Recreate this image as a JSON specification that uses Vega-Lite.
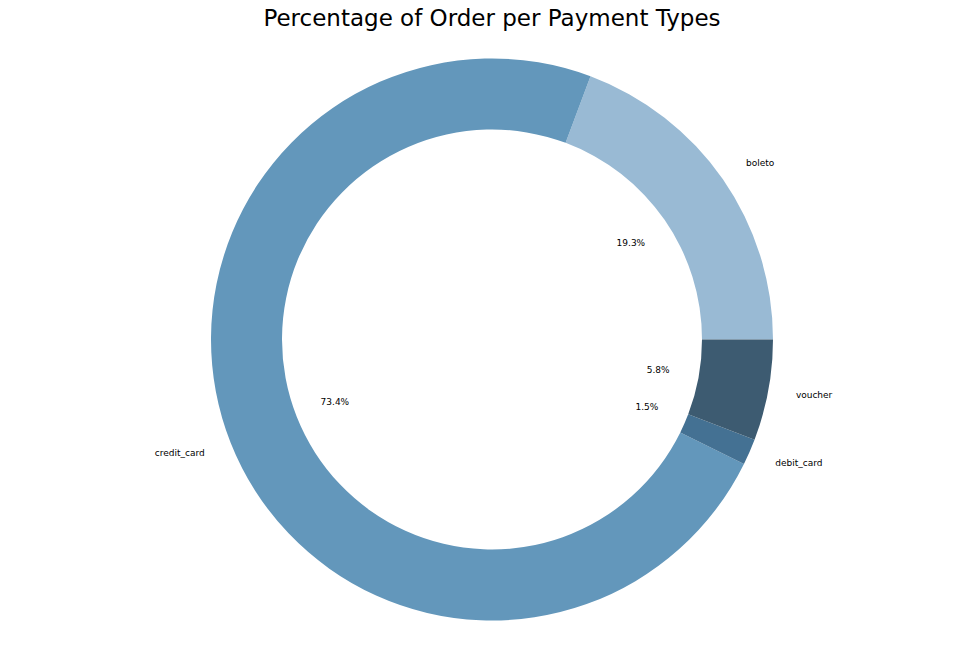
{
  "$schema": "https://vega.github.io/schema/vega-lite/v6.json",
  "width": 980,
  "height": 653,
  "autosize": {"type": "fit", "contains": "padding"},
  "padding": {"left": 4, "right": 0, "top": 8, "bottom": 5},
  "background": "#ffffff",
  "title": {"text": "Percentage of Order per Payment Types", "font": "DejaVu Sans", "fontSize": 23, "fontWeight": "normal", "color": "#000000", "anchor": "middle", "offset": 0, "baseline": "top"},
  "config": {"view": {"stroke": null}},
  "data": {"values": [
    {"type": "boleto", "share": 0.193},
    {"type": "credit_card", "share": 0.734},
    {"type": "debit_card", "share": 0.015},
    {"type": "voucher", "share": 0.058}
  ]},
  "encoding": {
    "theta": {"field": "share", "type": "quantitative", "stack": true, "scale": {"range": [1.5707963, 7.8539816]}},
    "order": {"field": "type", "sort": "descending"}
  },
  "layer": [
    {
      "mark": {"type": "arc", "outerRadius": 281, "innerRadius": 210},
      "encoding": {
        "color": {"field": "type", "type": "nominal", "legend": null,
          "scale": {"domain": ["boleto", "credit_card", "debit_card", "voucher"], "range": ["#99bad4", "#6397bb", "#447193", "#3d5b71"]}}
      }
    },
    {
      "mark": {"type": "text", "radius": 309, "font": "DejaVu Sans", "fontSize": 9, "color": "#000000", "baseline": "middle",
        "align": {"expr": "datum.type === 'credit_card' ? 'right' : 'left'"}},
      "encoding": {"text": {"field": "type", "type": "nominal"}}
    },
    {
      "mark": {"type": "text", "radius": 169, "font": "DejaVu Sans", "fontSize": 9, "color": "#000000", "baseline": "middle", "align": "center"},
      "encoding": {"text": {"field": "share", "type": "quantitative", "format": ".1%"}}
    }
  ]
}
